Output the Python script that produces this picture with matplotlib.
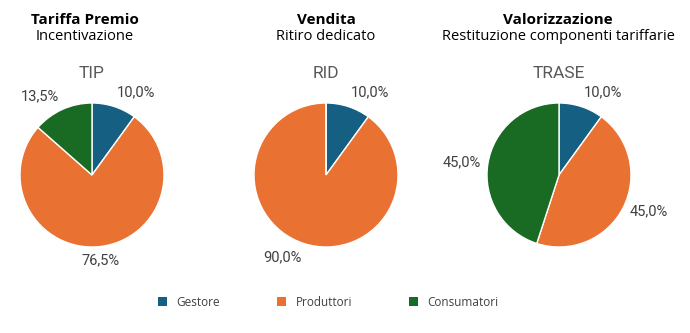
import matplotlib.pyplot as plt
from matplotlib.patches import Patch
import numpy as np

plt.rcParams['font.family'] = ['Open Sans', 'DejaVu Sans']

categories = ['Gestore', 'Produttori', 'Consumatori']
colors = ['#156082', '#E97132', '#196B24']

titles = ['Tariffa Premio', 'Vendita', 'Valorizzazione']
subtitles = ['Incentivazione', 'Ritiro dedicato', 'Restituzione componenti tariffarie']
pie_names = ['TIP', 'RID', 'TRASE']
tip = [10.0, 76.5, 13.5]
rid = [10.0, 90.0, 0.0]
trase = [10.0, 45.0, 45.0]
series = [tip, rid, trase]

W, H = 690, 333
fig = plt.figure(figsize=(W / 100, H / 100), dpi=100)

def fx(x):
    return x / W

def fy(y):
    return 1 - y / H

centers_x = [92, 326, 559]
title_x = [85, 326, 558]
cy, r = 175, 72

for i, vals in enumerate(series):
    cx = centers_x[i]
    ax = fig.add_axes([fx(cx - r), fy(cy + r), 2 * r / W, 2 * r / H])
    wedges, _ = ax.pie(vals, colors=colors, startangle=90, counterclock=False,
                       wedgeprops=dict(edgecolor='white', linewidth=1))
    ax.set_xlim(-1, 1)
    ax.set_ylim(-1, 1)
    ax.set_aspect('auto')
    # etichette fuori dalla torta
    cum = 0
    for val in vals:
        if val > 0:
            mid = np.deg2rad(90 - (cum + val / 2) / 100 * 360)
            c, s = np.cos(mid), np.sin(mid)
            d = 1.1
            x, y = d * c, d * s
            ha = 'left' if c > 0.2 else ('right' if c < -0.2 else 'center')
            va = 'bottom' if s > 0.5 else ('top' if s < -0.5 else 'center')
            ax.text(x, y, f'{val:.1f}%'.replace('.', ','), ha=ha, va=va,
                    fontsize=10.5, color='#404040', family='Roboto', clip_on=False)
        cum += val
    fig.text(fx(cx), fy(73), pie_names[i], ha='center', va='center',
             fontsize=12.5, color='#595959', family='Roboto')
    fig.text(fx(title_x[i]), fy(20), titles[i], ha='center', va='center',
             fontsize=11, fontweight='bold', color='black')
    fig.text(fx(title_x[i]), fy(37), subtitles[i], ha='center', va='center',
             fontsize=10.5, color='black')

handles = [Patch(facecolor=c, edgecolor='none') for c in colors]
fig.legend(handles, categories, loc='center', bbox_to_anchor=(fx(328), fy(302)),
           ncol=3, frameon=False, fontsize=8.5, handlelength=0.8, handleheight=0.8,
           columnspacing=4.8, handletextpad=0.8, labelcolor='#404040')

fig.savefig('out.png', dpi=100, facecolor='white')
